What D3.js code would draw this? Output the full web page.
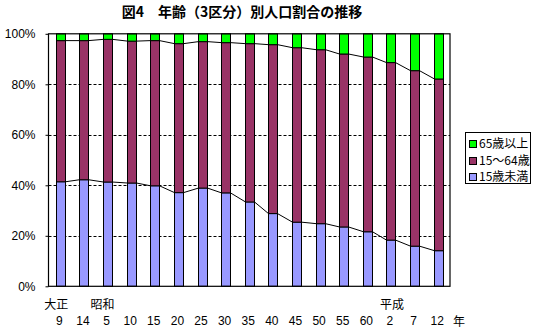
<!DOCTYPE html>
<html>
<head>
<meta charset="utf-8">
<script src="https://cdn.jsdelivr.net/npm/d3@7"></script>
<style>
  html, body { margin: 0; padding: 0; background: #fff; }
  svg { display: block; font-family: "Noto Sans CJK JP", "Liberation Sans", sans-serif; }
</style>
</head>
<body>
<svg id="chart" width="536" height="331"></svg>
<script>
// 年次（元号・年）
const years = ["9", "14", "5", "10", "15", "20", "25", "30", "35", "40", "45", "50", "55", "60", "2", "7", "12"];
const eras = [
  { label: "大正", index: 0 },
  { label: "昭和", index: 2 },
  { label: "平成", index: 14 }
];
// 年齢3区分別の割合（%）
const under15 = [41.4, 42.2, 41.3, 40.9, 39.8, 37.1, 38.9, 37.0, 33.4, 28.8, 25.4, 24.8, 23.5, 21.6, 18.3, 15.9, 14.1];
const age15to64 = [55.9, 55.1, 56.5, 56.2, 57.5, 59.0, 58.0, 59.5, 62.7, 66.9, 69.1, 68.9, 68.5, 69.2, 70.3, 69.5, 68.0];
const over65 = [2.7, 2.7, 2.2, 2.9, 2.7, 3.9, 3.1, 3.5, 3.9, 4.3, 5.5, 6.3, 8.0, 9.2, 11.4, 14.6, 17.9];
const seriesNames = ["15歳未満", "15～64歳", "65歳以上"];
const yTicks = [0, 20, 40, 60, 80, 100];

const colors = ["#9999ff", "#993366", "#00ff00"];

const svg = d3.select("#chart");
const plotL = 48.5, plotR = 450, plotT = 33.8, plotB = 286.3;
const barW = 9;

const x = d3.scaleBand().domain(d3.range(years.length)).range([plotL, plotR]).padding(0);
const y = d3.scaleLinear().domain([0, 100]).range([plotB, plotT]);
const barX = i => Math.round(x(i) + x.bandwidth() / 2 - barW / 2) + 0.5;

const rows = years.map((yr, i) => ({ i, a: under15[i], b: age15to64[i], c: over65[i] }));
const stack = d3.stack().keys(["a", "b", "c"])(rows);

// タイトル
svg.append("text")
  .attr("x", 242).attr("y", 17)
  .attr("text-anchor", "middle")
  .style("font-size", "14px").style("font-weight", "bold")
  .text("図4　年齢（3区分）別人口割合の推移");

// 目盛線
svg.append("g").selectAll("line")
  .data(yTicks.filter(t => t > 0 && t < 100))
  .join("line")
  .attr("x1", plotL).attr("x2", plotR)
  .attr("y1", d => Math.round(y(d)) + 0.5).attr("y2", d => Math.round(y(d)) + 0.5)
  .attr("stroke", "#000").attr("stroke-width", 1)
  .attr("stroke-dasharray", "3,2");

// 縦軸
const yAxis = d3.axisLeft(y).tickValues(yTicks).tickSize(3).tickPadding(10).tickFormat(d => d + "%");
const gy = svg.append("g").attr("transform", `translate(${plotL},0)`).call(yAxis);
gy.select(".domain").remove();
gy.selectAll("text").style("font-size", "12px").style("font-family", "'Liberation Sans', sans-serif").attr("fill", "#000");
gy.selectAll("line").attr("stroke", "#000");

// 積み上げ棒
stack.forEach((layer, k) => {
  svg.append("g").selectAll("rect")
    .data(layer)
    .join("rect")
    .attr("x", d => barX(d.data.i))
    .attr("width", barW)
    .attr("y", d => y(d[1]))
    .attr("height", d => y(d[0]) - y(d[1]))
    .attr("fill", colors[k])
    .attr("stroke", "#000").attr("stroke-width", 1);
});

// 区分線
[0, 1].forEach(k => {
  const layer = stack[k];
  const segs = layer.slice(0, -1).map((d, j) => {
    const n = layer[j + 1];
    return { x1: barX(d.data.i) + barW, y1: y(d[1]), x2: barX(n.data.i), y2: y(n[1]) };
  });
  svg.append("g").selectAll("line")
    .data(segs)
    .join("line")
    .attr("x1", d => d.x1).attr("y1", d => d.y1)
    .attr("x2", d => d.x2).attr("y2", d => d.y2)
    .attr("stroke", "#000").attr("stroke-width", 1);
});

// 枠
svg.append("rect")
  .attr("x", plotL).attr("y", plotT)
  .attr("width", plotR - plotL).attr("height", plotB - plotT)
  .attr("fill", "none").attr("stroke", "#000").attr("stroke-width", 1.2);

// 横軸ラベル
svg.append("g").selectAll("text")
  .data(years)
  .join("text")
  .attr("x", (d, i) => x(i) + x.bandwidth() / 2 - 1)
  .attr("y", 325)
  .attr("text-anchor", "middle")
  .style("font-size", "12px").style("font-family", "'Liberation Sans', sans-serif")
  .text(d => d);

const eraShift = [-4, -5, 1];
svg.append("g").selectAll("text")
  .data(eras)
  .join("text")
  .attr("x", (d, k) => x(d.index) + x.bandwidth() / 2 + eraShift[k])
  .attr("y", 309)
  .attr("text-anchor", "middle")
  .style("font-size", "12px")
  .text(d => d.label);

svg.append("text")
  .attr("x", 453).attr("y", 326)
  .style("font-size", "12px")
  .text("年");

// 凡例
const lg = svg.append("g");
lg.append("rect")
  .attr("x", 465.5).attr("y", 132.5).attr("width", 65).attr("height", 51)
  .attr("fill", "#fff").attr("stroke", "#000").attr("stroke-width", 1);
const legendItems = [2, 1, 0];
legendItems.forEach((k, r) => {
  const cy = 143.5 + r * 16.7;
  lg.append("rect")
    .attr("x", 469.5).attr("y", Math.round(cy - 3.5) + 0.5).attr("width", 7).attr("height", 7)
    .attr("fill", colors[k]).attr("stroke", "#000").attr("stroke-width", 1);
  lg.append("text")
    .attr("x", 479).attr("y", cy + 4.5)
    .style("font-size", "12px")
    .text(seriesNames[k]);
});
</script>
</body>
</html>
